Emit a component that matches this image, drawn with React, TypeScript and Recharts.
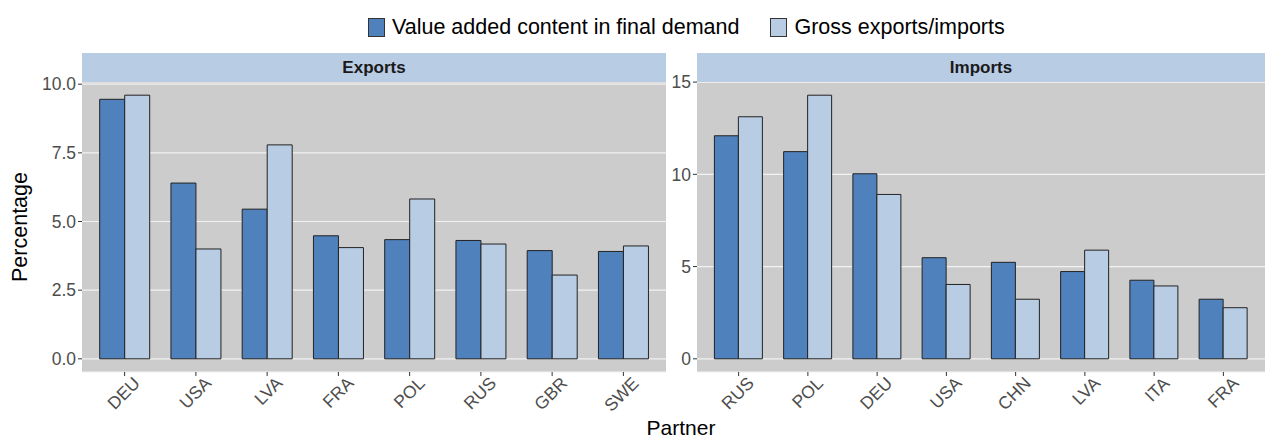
import React from 'react';
import { BarChart, Bar, XAxis, YAxis, CartesianGrid } from 'recharts';

const exportPartners = ['DEU', 'USA', 'LVA', 'FRA', 'POL', 'RUS', 'GBR', 'SWE'];
const exportVA = [9.45, 6.40, 5.45, 4.48, 4.34, 4.31, 3.94, 3.91];
const exportGross = [9.60, 4.00, 7.79, 4.05, 5.82, 4.18, 3.05, 4.11];

const importPartners = ['RUS', 'POL', 'DEU', 'USA', 'CHN', 'LVA', 'ITA', 'FRA'];
const importVA = [12.09, 11.23, 10.03, 5.48, 5.23, 4.73, 4.26, 3.23];
const importGross = [13.12, 14.29, 8.91, 4.03, 3.23, 5.89, 3.95, 2.77];

const exportTicks = [0, 2.5, 5, 7.5, 10];
const importTicks = [0, 5, 10, 15];

const seriesNames = ['Value added content in final demand', 'Gross exports/imports'];
const panelTitles = ['Exports', 'Imports'];

const DARK = '#4F81BD';
const LIGHT = '#B8CCE4';
const FONT = '"Liberation Sans", Arial, sans-serif';

const exportData = exportPartners.map((p, i) => ({ partner: p, va: exportVA[i], gross: exportGross[i] }));
const importData = importPartners.map((p, i) => ({ partner: p, va: importVA[i], gross: importGross[i] }));

const RotTick = (props: any) => {
  const { x, y, payload } = props;
  return (
    <g transform={`translate(${x},${y})`}>
      <text x={7} y={5} dy={11} textAnchor="end" transform="rotate(-45)" fill="#4D4D4D" fontSize={17.5} fontFamily={FONT}>
        {payload.value}
      </text>
    </g>
  );
};

function Panel({ data, ticks, domain, fmt, width, yWidth, rightMargin, pad }: any) {
  return (
    <BarChart
      width={width}
      height={441}
      data={data}
      margin={{ top: 82, right: rightMargin, bottom: 9, left: 0 }}
      barCategoryGap="15%"
      barGap={0}
    >
      <CartesianGrid vertical={false} fill="#CCCCCC" stroke="#F2F2F2" strokeWidth={1.2} />
      <XAxis
        dataKey="partner"
        height={60}
        padding={{ left: pad, right: pad }}
        axisLine={false}
        tickSize={4}
        tickLine={{ stroke: '#333333' }}
        tick={<RotTick />}
        interval={0}
      />
      <YAxis
        type="number"
        width={yWidth}
        domain={domain}
        ticks={ticks}
        allowDataOverflow
        axisLine={false}
        tickSize={4}
        tickMargin={2}
        tickLine={{ stroke: '#333333' }}
        tickFormatter={fmt}
        tick={{ fill: '#4D4D4D', fontSize: 17.5, fontFamily: FONT }}
      />
      <Bar dataKey="va" name={seriesNames[0]} fill={DARK} stroke="#222222" strokeWidth={1} isAnimationActive={false} />
      <Bar dataKey="gross" name={seriesNames[1]} fill={LIGHT} stroke="#222222" strokeWidth={1} isAnimationActive={false} />
    </BarChart>
  );
}

const stripStyle = (left: number, width: number): React.CSSProperties => ({
  position: 'absolute',
  left,
  top: 53,
  width,
  height: 29,
  background: LIGHT,
  fontFamily: FONT,
  fontWeight: 'bold',
  fontSize: 17,
  color: '#1A1A1A',
  textAlign: 'center',
  lineHeight: '30px',
});

const legendBox = (color: string): React.CSSProperties => ({
  display: 'inline-block',
  width: 17,
  height: 19,
  background: color,
  border: '1px solid #333',
  marginRight: 7,
  boxSizing: 'border-box',
});

export default function App() {
  return (
    <div style={{ position: 'absolute', left: 0, top: 0, width: 1269, height: 441, background: '#fff', overflow: 'hidden' }}>
      <div style={{ position: 'absolute', left: 0, top: 0 }}>
        <Panel
          data={exportData}
          ticks={exportTicks}
          domain={[-0.48, 10.08]}
          fmt={(v: number) => v.toFixed(1)}
          width={672}
          yWidth={82}
          rightMargin={6}
          pad={7}
        />
      </div>
      <div style={{ position: 'absolute', left: 672, top: 0 }}>
        <Panel
          data={importData}
          ticks={importTicks}
          domain={[-0.715, 15.005]}
          fmt={(v: number) => String(v)}
          width={597}
          yWidth={25}
          rightMargin={4}
          pad={7}
        />
      </div>
      <div style={stripStyle(82, 584)}>{panelTitles[0]}</div>
      <div style={stripStyle(697, 568)}>{panelTitles[1]}</div>
      <div
        style={{
          position: 'absolute',
          left: 368,
          top: 15,
          display: 'flex',
          alignItems: 'center',
          fontFamily: FONT,
          fontSize: 21.5,
          color: '#000',
          whiteSpace: 'nowrap',
        }}
      >
        <span style={legendBox(DARK)} />
        <span style={{ marginRight: 31 }}>{seriesNames[0]}</span>
        <span style={legendBox(LIGHT)} />
        <span>{seriesNames[1]}</span>
      </div>
      <div
        style={{
          position: 'absolute',
          left: 681,
          top: 428,
          transform: 'translate(-50%, -50%)',
          fontFamily: FONT,
          fontSize: 21,
          lineHeight: '24px',
          whiteSpace: 'nowrap',
        }}
      >
        Partner
      </div>
      <div
        style={{
          position: 'absolute',
          left: 20,
          top: 227,
          transform: 'translate(-50%, -50%) rotate(-90deg)',
          fontFamily: FONT,
          fontSize: 21.5,
          whiteSpace: 'nowrap',
        }}
      >
        Percentage
      </div>
    </div>
  );
}
